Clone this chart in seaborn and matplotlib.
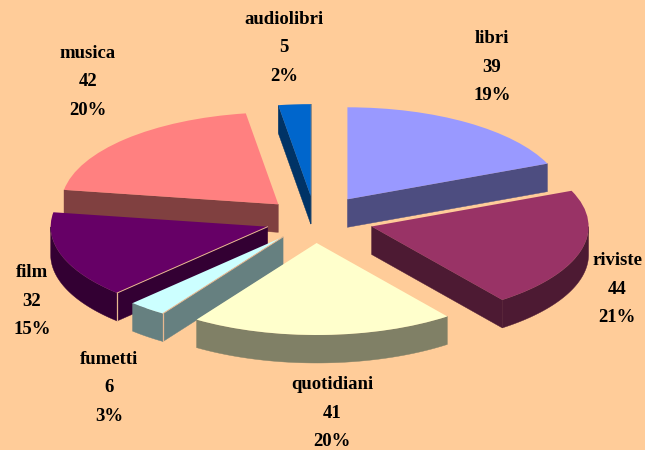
import numpy as np
import seaborn as sns
import matplotlib.pyplot as plt
from matplotlib.patches import Polygon
# exploded pseudo-3d pie: ax.pie gives the tops, the side walls are extruded from its wedges

names=['libri','riviste','quotidiani','fumetti','film','musica','audiolibri']
vals=[39,44,41,6,32,42,5]
cols=['#9999FF','#993366','#FFFFCC','#CCFFFF','#660066','#FF8080','#0066CC']
expl=[.27,.27,.25,.235,.23,.24,.26]

W,H=645,450
CX,CY=315,220   # pie centre, px
RX,RY=217,92    # pie radii, px
DEPTH=28/RY

# label centres in px
lab_x=[492,617,332,109,32,88,284]
lab_y=[67,289,413,388,301,82,48]

sns.set_style('white')
plt.rcParams['font.family']=['Liberation Serif','DejaVu Serif']
bg='#FFCC99'

fig,ax=plt.subplots(figsize=(W/100,H/100),dpi=100,facecolor=bg)
ax.set_position([0,0,1,1])
pal=sns.color_palette(cols)

wedges,_=ax.pie(vals,explode=expl,colors=pal,startangle=90,counterclock=False,radius=1)
ax.set_aspect('auto')
ax.set_xlim(-CX/RX,(W-CX)/RX)
ax.set_ylim(-(H-CY)/RY,CY/RY)
ax.set_facecolor(bg)
sns.despine(ax=ax,left=True,bottom=True)


def edge_wall(cx,cy,t,z,c):
    a=np.deg2rad(t)
    x,y=cx+np.cos(a),cy+np.sin(a)
    ax.add_patch(Polygon([(cx,cy),(x,y),(x,y-DEPTH),(cx,cy-DEPTH)],fc=c,ec=c,lw=.3,zorder=z))


# back slices first so the front ones sit over them
order=np.argsort([w.center[1] for w in wedges])[::-1]
for k,i in enumerate(order):
    w=wedges[i]
    cx,cy=w.center
    t1,t2=w.theta1,w.theta2
    z=2+k*3
    dark=tuple(.5*v for v in pal[i])
    if np.sin(np.deg2rad(t1-90))<0:
        edge_wall(cx,cy,t1,z,dark)
    if np.sin(np.deg2rad(t2+90))<0:
        edge_wall(cx,cy,t2,z,dark)
    th=np.deg2rad(np.linspace(t1,t2,200))
    th=th[np.sin(th)<=0]
    if len(th):
        x=cx+np.cos(th)
        y=cy+np.sin(th)
        ax.fill(np.r_[x,x[::-1]],np.r_[y,y[::-1]-DEPTH],color=dark,lw=.3,zorder=z+1)
    w.set_zorder(z+2)
    w.set_linewidth(0)
    # thin light seam on the small dark/pale slices
    if names[i] in ('film','fumetti'):
        a=np.deg2rad(t2)
        ax.plot([cx,cx+np.cos(a)],[cy,cy+np.sin(a)],color='#E8B890',lw=.7,zorder=z+3)
        ax.plot([cx+np.cos(a)]*2,[cy+np.sin(a),cy+np.sin(a)-DEPTH],color='#E8B890',lw=.9,zorder=z+3)

tot=sum(vals)
for n,v,x,y in zip(names,vals,lab_x,lab_y):
    ax.text(x/W,1-y/H,f'{n}\n{v}\n{round(100*v/tot)}%',transform=ax.transAxes,ha='center',va='center',
            fontsize=13.5,fontweight='bold',linespacing=1.85,color='black',zorder=50)

fig.savefig('out.png',dpi=100,facecolor=bg)
